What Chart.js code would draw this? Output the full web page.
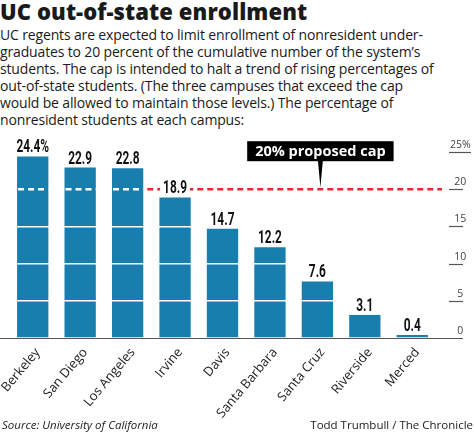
<!DOCTYPE html>
<html>
<head>
<meta charset="utf-8">
<script src="https://cdn.jsdelivr.net/npm/chart.js@4.4.1/dist/chart.umd.min.js"></script>
<style>
  html, body { margin: 0; padding: 0; background: #fff; }
  body { width: 474px; height: 439px; position: relative; overflow: hidden; font-family: "Open Sans", "Noto Sans", sans-serif; color: #1a1a1a; }
  #title { position: absolute; left: 0; top: -4px; font-family: "Open Sans", Lato, sans-serif; font-weight: 800; font-size: 22px; letter-spacing: 0.1px; white-space: nowrap; }
  #intro { position: absolute; left: 0; top: 26px; font-size: 14px; line-height: 17px; white-space: nowrap; letter-spacing: -0.15px; }
  #chartbox { position: absolute; left: 0; top: 128px; width: 474px; height: 311px; }
  .foot { position: absolute; top: 417px; font-size: 11.5px; white-space: nowrap; color: #222; }
  #source { left: 2px; font-style: italic; }
  #credit { right: 1px; }
</style>
</head>
<body>
<div id="title">UC out-of-state enrollment</div>
<div id="intro">UC regents are expected to limit enrollment of nonresident under-<br>graduates to 20 percent of the cumulative number of the system’s<br>students. The cap is intended to halt a trend of rising percentages of<br>out-of-state students. (The three campuses that exceed the cap<br>would be allowed to maintain those levels.) The percentage of<br>nonresident students at each campus:</div>
<div id="chartbox"><canvas id="chart" width="474" height="311"></canvas></div>
<div class="foot" id="source">Source: University of California</div>
<div class="foot" id="credit">Todd Trumbull / The Chronicle</div>
<script>
const campuses = ['Berkeley', 'San Diego', 'Los Angeles', 'Irvine', 'Davis',
  'Santa Barbara', 'Santa Cruz', 'Riverside', 'Merced'];
const nonresidentPct = [24.4, 22.9, 22.8, 18.9, 14.7, 12.2, 7.6, 3.1, 0.4];
const yTicks = [0, 5, 10, 15, 20, 25];
const capValue = 20;
const capText = '20% proposed cap';

const barBlue = '#187ead';
const capRed = '#e8262c';

// overlays: cap line, value labels, callout, baseline and tick underlines
const overlays = {
  id: 'overlays',
  afterDraw(chart) {
    const ctx = chart.ctx;
    const area = chart.chartArea;
    const x = chart.scales.x, y = chart.scales.y;
    const bars = chart.getDatasetMeta(0).data;
    const capY = y.getPixelForValue(capValue);

    // red dashed line starts after the last bar over the cap
    let startX = area.left;
    bars.forEach((b, i) => {
      if (nonresidentPct[i] >= capValue) startX = b.x + b.width / 2 + 4;
    });
    ctx.save();
    ctx.lineWidth = 2.5;
    ctx.setLineDash([6, 4]);
    ctx.strokeStyle = capRed;
    ctx.beginPath();
    ctx.moveTo(startX, capY);
    ctx.lineTo(area.right + 6, capY);
    ctx.stroke();

    // white dashes across the bars above the cap
    ctx.strokeStyle = '#fff';
    bars.forEach((b, i) => {
      if (nonresidentPct[i] < capValue) return;
      ctx.beginPath();
      ctx.moveTo(b.x - b.width / 2 + 1, capY);
      ctx.lineTo(b.x + b.width / 2, capY);
      ctx.stroke();
    });
    ctx.restore();

    // value labels (condensed)
    ctx.save();
    ctx.font = 'bold 18px Roboto, sans-serif';
    ctx.textBaseline = 'alphabetic';
    ctx.textAlign = 'center';
    const squeeze = 0.66;
    bars.forEach((b, i) => {
      const txt = nonresidentPct[i].toFixed(1) + (i === 0 ? '%' : '');
      const w = ctx.measureText(txt).width * squeeze;
      const base = b.y - 4;
      ctx.fillStyle = '#fff';
      ctx.fillRect(b.x - w / 2 - 3, base - 14, w + 6, 17);
      ctx.save();
      ctx.translate(b.x, base);
      ctx.scale(squeeze, 1);
      ctx.fillStyle = '#111';
      ctx.fillText(txt, 0, 0);
      ctx.restore();
    });
    ctx.restore();

    // callout box
    ctx.save();
    const cx = x.getPixelForValue(6) + 3;
    ctx.font = 'bold 14.5px "Open Sans", sans-serif';
    const tw = ctx.measureText(capText).width;
    const boxW = tw + 16, boxH = 20;
    const boxBottom = capY - 28;
    ctx.fillStyle = '#000';
    ctx.fillRect(cx - boxW / 2, boxBottom - boxH, boxW, boxH);
    ctx.beginPath();
    ctx.moveTo(cx - 2.5, boxBottom - 1);
    ctx.lineTo(cx + 2.5, boxBottom - 1);
    ctx.lineTo(cx, capY - 2);
    ctx.closePath();
    ctx.fill();
    ctx.fillStyle = '#fff';
    ctx.textAlign = 'center';
    ctx.textBaseline = 'middle';
    ctx.fillText(capText, cx, boxBottom - boxH / 2 + 0.5);
    ctx.restore();

    // baseline and underlines beneath right-hand tick labels
    ctx.save();
    ctx.strokeStyle = '#555';
    ctx.lineWidth = 1.2;
    y.ticks.forEach((t, i) => {
      const py = y.getPixelForTick(i);
      const left = t.value === 0 ? 0 : y.left + 13;
      const right = t.value === 25 ? y.left + 35 : y.left + 27;
      ctx.beginPath();
      ctx.moveTo(left, Math.round(py) + 0.5);
      ctx.lineTo(right, Math.round(py) + 0.5);
      ctx.stroke();
    });
    ctx.restore();
  }
};

new Chart(document.getElementById('chart'), {
  type: 'bar',
  data: {
    labels: campuses,
    datasets: [{
      data: nonresidentPct,
      backgroundColor: barBlue,
      borderWidth: 0,
      barPercentage: 0.66,
      categoryPercentage: 1
    }]
  },
  options: {
    responsive: false,
    animation: false,
    events: [],
    layout: { padding: { top: 24, left: 9, right: 0, bottom: 0 } },
    plugins: { legend: { display: false }, tooltip: { enabled: false } },
    scales: {
      x: {
        grid: { display: false, drawTicks: false },
        border: { display: false },
        ticks: {
          minRotation: 50, maxRotation: 50, padding: 7, labelOffset: 5,
          color: '#222',
          font: { family: '"Open Sans", "Noto Sans", sans-serif', size: 13 }
        },
        afterFit: s => { s.height = 101; s.paddingLeft = 0; s.paddingRight = 0; }
      },
      y: {
        position: 'right',
        min: 0, max: 25,
        afterBuildTicks: s => { s.ticks = yTicks.map(v => ({ value: v })); },
        grid: {
          z: 1,
          lineWidth: 1.5,
          drawTicks: false,
          color: c => (c.tick && (c.tick.value === capValue || c.tick.value === 0)) ? 'rgba(0,0,0,0)' : '#fff'
        },
        border: { display: false },
        ticks: {
          crossAlign: 'center',
          padding: 14,
          labelOffset: -7,
          color: '#444',
          font: { family: '"Open Sans", sans-serif', size: 10.5 },
          callback: v => v === 25 ? '25%' : String(v)
        },
        afterFit: s => { s.width = 38; }
      }
    }
  },
  plugins: [overlays]
});
</script>
</body>
</html>
